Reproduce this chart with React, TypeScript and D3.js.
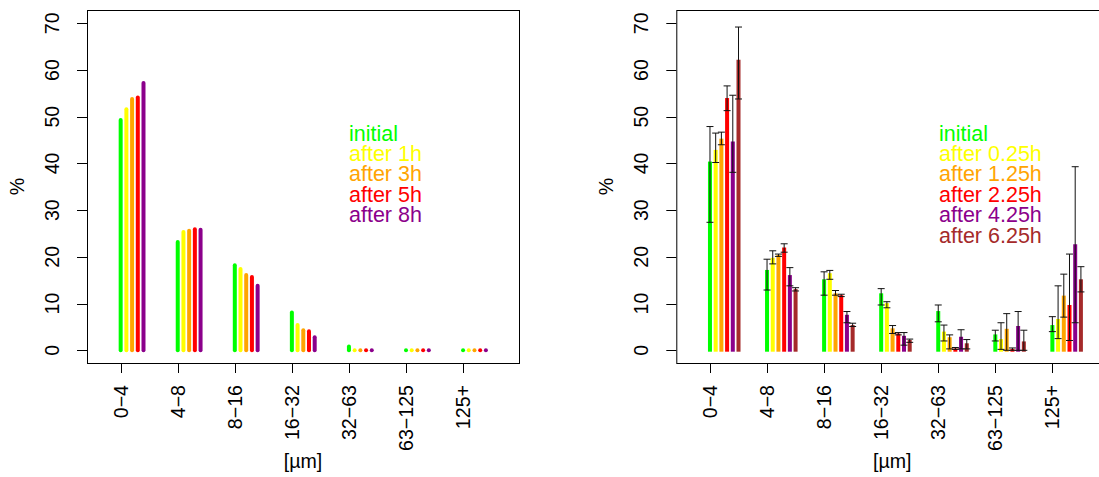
import React from "react";
import * as d3 from "d3";

const categories = ["0\u22124", "4\u22128", "8\u221216", "16\u221232", "32\u221263", "63\u2212125", "125+"];
const yTicks = [0, 10, 20, 30, 40, 50, 60, 70];

// Left panel
const leftSeries = ["initial", "after 1h", "after 3h", "after 5h", "after 8h"];
const leftColors = ["#00FF00", "#FFFF00", "#FFA500", "#FF0000", "#8B008B"];
const leftInitial = [49.3, 23.2, 18.2, 8.1, 0.8, 0, 0];
const leftAfter1h = [51.6, 25.3, 17.4, 5.4, 0, 0, 0];
const leftAfter3h = [53.8, 25.6, 16.1, 4.3, 0, 0, 0];
const leftAfter5h = [54.1, 25.9, 15.7, 4.1, 0, 0, 0];
const leftAfter8h = [57.2, 25.8, 13.8, 2.8, 0, 0, 0];
const leftValues = [leftInitial, leftAfter1h, leftAfter3h, leftAfter5h, leftAfter8h];

// Right panel
const rightSeries = ["initial", "after 0.25h", "after 1.25h", "after 2.25h", "after 4.25h", "after 6.25h"];
const rightColors = ["#00FF00", "#FFFF00", "#FFA500", "#FF0000", "#8B008B", "#A52A2A"];
const rightInitial = [40.4, 17.2, 15.2, 12.2, 8.4, 3.4, 5.4];
const rightInitialLo = [27.4, 12.9, 11.8, 9.7, 6.1, 2.0, 4.0];
const rightInitialHi = [47.9, 19.5, 16.8, 13.2, 9.7, 4.3, 7.2];
const rightA025 = [42.9, 19.8, 16.5, 10.1, 4.0, 2.4, 6.7];
const rightA025Lo = [40.2, 18.5, 15.2, 9.1, 2.0, 0.2, 2.5];
const rightA025Hi = [46.5, 21.3, 17.1, 10.4, 5.4, 5.9, 13.8];
const rightA125 = [45.3, 20.4, 12.2, 4.7, 2.8, 4.6, 11.7];
const rightA125Lo = [44.0, 20.1, 11.8, 3.6, 0.3, 0.0, 7.1];
const rightA125Hi = [46.7, 20.6, 12.8, 5.3, 3.3, 7.85, 16.3];
const rightA225 = [54.0, 22.0, 11.8, 3.6, 0.4, 0.3, 9.7];
const rightA225Lo = [51.3, 21.0, 11.5, 3.3, 0.2, 0.0, 2.1];
const rightA225Hi = [56.6, 22.8, 12.0, 3.8, 0.6, 0.5, 20.6];
const rightA425 = [44.7, 16.1, 7.6, 3.1, 2.9, 5.2, 22.7];
const rightA425Lo = [38.1, 13.8, 5.9, 1.1, 0.3, 0.0, 5.9];
const rightA425Hi = [54.6, 17.7, 8.3, 3.8, 4.4, 8.3, 39.3];
const rightA625 = [62.2, 13.1, 5.4, 2.2, 1.5, 1.9, 15.2];
const rightA625Lo = [53.8, 12.7, 5.1, 1.7, 0.3, 0.0, 12.5];
const rightA625Hi = [69.2, 13.4, 5.8, 2.4, 2.3, 4.3, 17.9];
const rightValues = [rightInitial, rightA025, rightA125, rightA225, rightA425, rightA625];
const rightLo = [rightInitialLo, rightA025Lo, rightA125Lo, rightA225Lo, rightA425Lo, rightA625Lo];
const rightHi = [rightInitialHi, rightA025Hi, rightA125Hi, rightA225Hi, rightA425Hi, rightA625Hi];

const FONT = "'Liberation Sans', Arial, Helvetica, sans-serif";
const TICK_FS = 19.6;
const LEG_FS = 21.5;
const OFFSET = 0.1;

type PanelProps = {
  left: number;
  series: string[];
  colors: string[];
  values: number[][];
  lo?: number[][];
  hi?: number[][];
  legendX: number;
  rounded: boolean;
};

function Panel({ left, series, colors, values, lo, hi, legendX, rounded }: PanelProps) {
  const boxW = 432;
  const boxTop = 10;
  const boxBottom = 363;
  const x = d3.scaleLinear().domain([0.41, 7.98]).range([left, left + boxW]);
  const y = d3.scaleLinear().domain([0, 70]).range([350.3, 23.3]);
  const bw = 4;
  const legendStart = 140.5;
  const legendStep = 20.4;
  const cx = (left + left + boxW) / 2;
  return (
    <g>
      {/* bars */}
      {values.map((vals, j) => (
        <g key={"s" + j}>
          {vals.map((v, i) => {
            const xc = x(i + 1 + OFFSET * j);
            if (rounded) {
              return (
                <rect
                  key={i}
                  x={xc - bw / 2}
                  y={y(v) - bw / 2}
                  width={bw}
                  height={y(0) - y(v) + bw}
                  rx={bw / 2}
                  ry={bw / 2}
                  fill={colors[j]}
                />
              );
            }
            return (
              <rect
                key={i}
                x={xc - bw / 2}
                y={y(v)}
                width={bw}
                height={y(0) - y(v) + 1.4}
                fill={colors[j]}
              />
            );
          })}
        </g>
      ))}
      {/* error bars */}
      {lo && hi &&
        values.map((vals, j) => (
          <g key={"e" + j} stroke="#111" strokeWidth={1} fill="none">
            {vals.map((_, i) => {
              const xc = x(i + 1 + OFFSET * j);
              const yl = y(lo[j][i]);
              const yh = y(hi[j][i]);
              return (
                <g key={i}>
                  <line x1={xc} x2={xc} y1={yl} y2={yh} />
                  <line x1={xc - 3.5} x2={xc + 3.5} y1={yl} y2={yl} />
                  <line x1={xc - 3.5} x2={xc + 3.5} y1={yh} y2={yh} />
                </g>
              );
            })}
          </g>
        ))}
      {/* box */}
      <rect
        x={left + 0.5}
        y={boxTop + 0.5}
        width={boxW}
        height={boxBottom - boxTop}
        fill="none"
        stroke="#000"
        strokeWidth={1}
      />
      {/* y axis */}
      {yTicks.map((t) => (
        <g key={"yt" + t}>
          <line x1={left - 10} x2={left} y1={Math.round(y(t)) + 0.5} y2={Math.round(y(t)) + 0.5} stroke="#000" />
          <text
            transform={`translate(${left - 28},${y(t)}) rotate(-90)`}
            textAnchor="middle"
            fontSize={TICK_FS}
            fontFamily={FONT}
            fill="#000"
          >
            {t}
          </text>
        </g>
      ))}
      <text
        transform={`translate(${left - 63},${(boxTop + boxBottom) / 2}) rotate(-90)`}
        textAnchor="middle"
        fontSize={TICK_FS}
        fontFamily={FONT}
        fill="#000"
      >
        %
      </text>
      {/* x axis */}
      {categories.map((c, i) => (
        <g key={"xt" + i}>
          <line
            x1={Math.round(x(i + 1)) + 0.5}
            x2={Math.round(x(i + 1)) + 0.5}
            y1={boxBottom}
            y2={boxBottom + 10}
            stroke="#000"
          />
          <text
            transform={`translate(${x(i + 1) + 7},385) rotate(-90)`}
            textAnchor="end"
            fontSize={TICK_FS}
            fontFamily={FONT}
            fill="#000"
          >
            {c}
          </text>
        </g>
      ))}
      <text x={cx} y={468} textAnchor="middle" fontSize={TICK_FS} fontFamily={FONT} fill="#000">
        [µm]
      </text>
      {/* legend */}
      {series.map((s, j) => (
        <text
          key={"l" + j}
          x={legendX}
          y={legendStart + j * legendStep}
          fontSize={LEG_FS}
          fontFamily={FONT}
          fill={colors[j]}
        >
          {s}
        </text>
      ))}
    </g>
  );
}

export default function App() {
  return (
    <svg
      width={1099}
      height={477}
      style={{ position: "absolute", left: 0, top: 0, display: "block", background: "#fff" }}
    >
      <rect x={0} y={0} width={1099} height={477} fill="#fff" />
      <Panel
        left={87}
        series={leftSeries}
        colors={leftColors}
        values={leftValues}
        legendX={349}
        rounded={true}
      />
      <Panel
        left={676.3}
        series={rightSeries}
        colors={rightColors}
        values={rightValues}
        lo={rightLo}
        hi={rightHi}
        legendX={939}
        rounded={false}
      />
    </svg>
  );
}
